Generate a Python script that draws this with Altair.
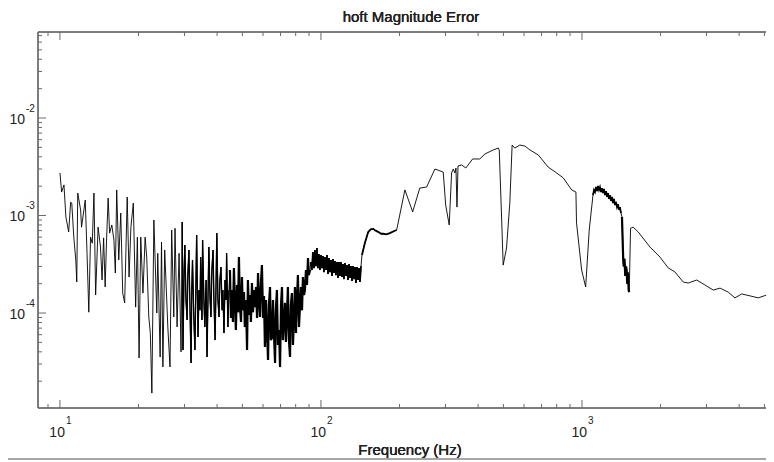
import altair as alt
import pandas as pd

# ---- data (frequency in Hz, magnitude error) ----
# 10 - 29 Hz
FREQ_A = [
    10.0, 10.15, 10.36, 10.54, 10.8, 10.99, 11.1, 11.3, 11.5, 11.6,
    11.7, 12.0, 12.1, 12.5, 12.7, 12.9, 13.1, 13.3, 13.5, 13.7,
    14.0, 14.3, 14.5, 14.7, 14.9, 15.1, 15.3, 15.5, 15.8, 16.1,
    16.3, 16.5, 16.8, 17.1, 17.4, 17.7, 18.1, 18.4, 18.7, 19.1,
    19.5, 19.8, 20.1, 20.4, 20.8, 21.2, 21.5, 21.9, 22.2, 22.5,
    22.9, 23.5, 23.7, 24.2, 24.5, 24.8, 25.2, 25.9, 26.4, 26.8,
    27.3, 27.6, 28.1, 28.6, 29.1,
]
MAG_A = [
    2.73e-3, 1.74e-3, 2.06e-3, 9.66e-4, 6.77e-4, 1.37e-3, 1.34e-3, 6.0e-4, 3.5e-4, 2.08e-4,
    1.70e-3, 1.14e-3, 7.6e-4, 1.44e-3, 4.1e-4, 1.02e-4, 6.0e-4, 5.2e-4, 1.70e-3, 1.53e-4,
    7.6e-4, 4.75e-4, 2.18e-4, 5.9e-4, 1.85e-4, 6.0e-4, 1.51e-3, 6.6e-4, 8.0e-4, 5.6e-4,
    2.57e-4, 1.83e-3, 3.5e-4, 1.06e-3, 1.6e-4, 1.27e-4, 1.55e-3, 2.34e-4, 7.6e-4, 1.34e-3,
    1.15e-4, 6.0e-4, 3.46e-5, 6.0e-4, 1.6e-4, 6.0e-4, 3.75e-4, 9.1e-5, 6.2e-5, 1.51e-5,
    9.0e-4, 1.0e-4, 4.1e-4, 3.54e-5, 5.35e-4, 2.8e-5, 4.43e-4, 7.2e-5, 2.8e-5, 7.1e-4,
    9.1e-5, 7.4e-4, 7.2e-5, 4.1e-4, 4.0e-5,
]
# 29 - 44 Hz
FREQ_B = [
    29.4, 29.6, 29.9, 30.1, 30.4, 30.7, 30.9, 31.2, 31.5, 31.8,
    32.0, 32.2, 32.6, 32.9, 33.2, 33.4, 33.8, 34.1, 34.4, 34.6,
    35.0, 35.2, 35.6, 35.9, 36.3, 36.6, 36.9, 37.2, 37.6, 37.9,
    38.2, 38.6, 38.9, 39.3, 39.6, 39.9, 40.3, 40.7, 41.0, 41.4,
    41.8, 42.1, 42.5, 42.9, 43.3, 43.5, 44.0, 44.4,
]
MAG_B = [
    8.58e-4, 4.17e-5, 2.76e-4, 4.98e-4, 1.36e-4, 8.48e-5, 2.45e-4, 4.43e-4, 1.07e-4, 3.07e-5,
    1.72e-4, 3.50e-4, 8.48e-5, 4.17e-5, 2.18e-4, 6.31e-4, 5.68e-5, 1.72e-4, 1.07e-4, 3.75e-4,
    8.48e-5, 5.61e-4, 1.36e-4, 7.18e-5, 2.18e-4, 3.54e-5, 1.36e-4, 4.75e-4, 1.36e-4, 9.10e-5,
    2.76e-4, 4.43e-4, 1.36e-4, 5.28e-5, 1.72e-4, 6.61e-4, 1.36e-4, 9.10e-5, 2.18e-4, 2.96e-4,
    1.07e-4, 1.72e-4, 6.23e-5, 2.18e-4, 1.36e-4, 4.12e-4, 7.18e-5, 1.72e-4,
]
# 45 - 91 Hz (dense)
FREQ_C = [
    44.8, 45.2, 45.6, 46.0, 46.4, 46.8, 47.2, 47.7, 48.1, 48.5,
    48.9, 49.4, 49.8, 50.2, 50.7, 51.1, 51.6, 52.1, 52.5, 53.0,
    53.5, 53.9, 54.4, 54.9, 55.4, 55.9, 56.4, 56.9, 57.4, 57.9,
    58.4, 58.9, 59.4, 60.0, 60.5, 61.0, 61.6, 62.1, 62.7, 63.2,
    63.8, 64.3, 64.9, 65.5, 66.1, 66.7, 67.2, 67.8, 68.4, 69.1,
    69.7, 70.3, 70.9, 71.5, 72.2, 72.8, 73.4, 74.1, 74.7, 75.4,
    76.1, 76.7, 77.4, 78.1, 78.8, 79.5, 80.2, 80.9, 81.6, 82.4,
    83.1, 83.8, 84.6, 85.3, 86.1, 86.8, 87.6, 88.4, 89.2, 89.9,
    90.8,
]
MAG_C = [
    2.76e-4, 8.89e-5, 1.72e-4, 8.09e-5, 2.89e-4, 1.36e-4, 6.69e-5, 1.94e-4, 1.02e-4, 3.75e-4,
    1.21e-4, 8.09e-5, 2.34e-4, 1.07e-4, 1.64e-4, 7.18e-5, 1.36e-4, 4.17e-5, 2.18e-4, 9.54e-5,
    1.53e-4, 8.09e-5, 2.03e-4, 1.02e-4, 1.72e-4, 1.15e-4, 1.85e-4, 8.89e-5, 2.57e-4, 1.36e-4,
    9.10e-5, 2.03e-4, 3.11e-4, 8.89e-5, 1.49e-4, 4.48e-5, 1.36e-4, 6.69e-5, 3.30e-5, 1.21e-4,
    1.85e-4, 5.28e-5, 5.54e-5, 1.36e-4, 5.95e-5, 3.07e-5, 1.07e-4, 1.72e-4, 4.70e-5, 6.69e-5,
    2.79e-5, 1.21e-4, 1.85e-4, 5.28e-5, 8.48e-5, 1.27e-4, 5.04e-5, 9.54e-5, 1.85e-4, 5.28e-5,
    3.54e-5, 1.21e-4, 1.60e-4, 4.70e-5, 8.48e-5, 1.85e-4, 6.23e-5, 1.36e-4, 2.45e-4, 7.18e-5,
    1.21e-4, 1.85e-4, 1.07e-4, 2.34e-4, 1.53e-4, 1.72e-4, 2.76e-4, 1.94e-4, 3.66e-4, 2.45e-4,
    2.76e-4,
]
# 91 - 143 Hz (thick band)
FREQ_D = [
    91.5, 92.3, 93.1, 94.0, 94.8, 95.6, 96.5, 97.3, 98.2, 99.1,
    100.0, 100.9, 101.8, 102.7, 103.6, 104.5, 105.4, 106.4, 107.3, 108.3,
    109.2, 110.2, 111.2, 112.2, 113.1, 114.1, 115.2, 116.2, 117.2, 118.3,
    119.3, 120.4, 121.4, 122.5, 123.6, 124.7, 125.8, 126.9, 128.1, 129.2,
    130.3, 131.5, 132.7, 133.8, 135.0, 136.2, 137.4, 138.7, 139.9, 141.1,
    142.4,
]
MAG_D = [
    3.34e-4, 2.76e-4, 4.22e-4, 2.89e-4, 4.43e-4, 3.03e-4, 4.64e-4, 2.89e-4, 4.03e-4, 2.76e-4,
    3.94e-4, 2.89e-4, 3.84e-4, 2.63e-4, 3.75e-4, 2.76e-4, 3.94e-4, 2.51e-4, 3.66e-4, 2.63e-4,
    3.50e-4, 2.40e-4, 3.58e-4, 2.57e-4, 3.41e-4, 2.45e-4, 3.34e-4, 2.29e-4, 3.34e-4, 2.40e-4,
    3.34e-4, 2.34e-4, 3.18e-4, 2.23e-4, 3.26e-4, 2.40e-4, 3.11e-4, 2.18e-4, 3.18e-4, 2.29e-4,
    3.03e-4, 2.13e-4, 3.03e-4, 2.23e-4, 2.96e-4, 2.03e-4, 2.96e-4, 2.18e-4, 2.89e-4, 2.08e-4,
    3.03e-4,
]
# 143 - 195 Hz (plateau)
FREQ_E1 = [
    143.6, 147.3, 151.7, 155.0, 158.5, 162.0, 165.6, 170.0, 173.2, 178.0,
    183.7, 190.0, 195.0,
]
MAG_E1 = [
    3.94e-4, 5.22e-4, 6.77e-4, 7.2e-4, 7.3e-4, 7.0e-4, 6.8e-4, 6.5e-4, 6.5e-4, 6.4e-4,
    6.6e-4, 6.9e-4, 7.1e-4,
]
# 210 - 1070 Hz
FREQ_E2 = [
    209.7, 224.6, 239.1, 254.0, 273.3, 294.0, 300.5,
    310.0, 316.6, 321.3, 326.0, 329.0, 332.0, 335.0, 346.0, 359.0, 381.0,
    406.0, 425.0, 457.0, 478.0, 482.0, 492.0, 499.0, 514.0, 529.0, 540.0,
    553.0, 578.0, 604.0, 632.0, 680.0, 742.0, 800.0, 848.0, 913.0, 948.0,
    953.0, 997.0, 1033.0, 1066.0,
]
MAG_E2 = [
    1.83e-3, 1.09e-3, 1.91e-3, 1.96e-3, 3.0e-3, 2.79e-3, 1.28e-3,
    8.0e-4, 2.73e-3, 3.0e-3, 2.73e-3, 3.07e-3, 1.22e-3, 3.22e-3, 3.3e-3, 3.07e-3, 3.8e-3,
    3.8e-3, 4.28e-3, 4.7e-3, 4.92e-3, 4.7e-3, 9.66e-4, 3.1e-4, 4.64e-4, 1.34e-3, 5.28e-3,
    4.92e-3, 5.28e-3, 5.16e-3, 4.7e-3, 4.18e-3, 3.14e-3, 2.73e-3, 2.43e-3, 1.83e-3, 1.74e-3,
    8.4e-4, 2.76e-4, 1.85e-4, 7.1e-4,
]
# 1100 - 1420 Hz (thick band)
FREQ_F = [
    1102, 1112, 1122, 1132, 1142, 1152, 1162, 1172, 1183, 1193,
    1204, 1214, 1225, 1236, 1247, 1258, 1269, 1280, 1292, 1303,
    1315, 1326, 1338, 1350, 1362, 1374, 1386, 1398, 1411,
]
MAG_F = [
    1.62e-3, 1.83e-3, 1.74e-3, 1.96e-3, 1.78e-3, 2.01e-3, 1.83e-3, 1.96e-3, 1.74e-3, 1.91e-3,
    1.70e-3, 1.87e-3, 1.62e-3, 1.78e-3, 1.55e-3, 1.70e-3, 1.48e-3, 1.62e-3, 1.41e-3, 1.55e-3,
    1.34e-3, 1.48e-3, 1.28e-3, 1.38e-3, 1.22e-3, 1.31e-3, 1.14e-3, 1.22e-3, 1.06e-3,
]
# 1420 - 1520 Hz (dip)
FREQ_G1 = [1423, 1439, 1445, 1455, 1465, 1475, 1483, 1490, 1500, 1510, 1517]
MAG_G1 = [9.66e-4, 3.5e-4, 3.0e-4, 3.6e-4, 2.4e-4, 3.0e-4, 2.76e-4, 2.0e-4, 2.6e-4, 1.7e-4, 1.64e-4]
# 1530 - 5400 Hz
FREQ_G2 = [
    1535, 1571, 1643, 1822, 1990, 2140, 2270, 2443, 2553,
    2750, 2958, 3184, 3380, 3631, 3855, 4091, 4403, 4733, 5094, 5405,
]
MAG_G2 = [
    7.4e-4, 7.6e-4, 6.77e-4, 4.75e-4, 3.75e-4, 2.9e-4, 2.64e-4, 2.08e-4, 2.03e-4,
    2.18e-4, 1.94e-4, 1.72e-4, 1.8e-4, 1.64e-4, 1.43e-4, 1.57e-4, 1.5e-4, 1.43e-4, 1.53e-4, 1.6e-4,
]

X_MAJOR = [10, 100, 1000]
X_EXP = ["1", "2", "3"]
X_MINOR = [9, 20, 30, 40, 50, 60, 70, 80, 90, 200, 300, 400, 500, 600, 700, 800, 900,
           2000, 3000, 4000, 5000]
Y_MAJOR = [1e-2, 1e-3, 1e-4]
Y_EXP = ["-2", "-3", "-4"]
Y_MINOR = [2e-5, 3e-5, 4e-5, 5e-5, 6e-5, 7e-5, 8e-5, 9e-5,
           2e-4, 3e-4, 4e-4, 5e-4, 6e-4, 7e-4, 8e-4, 9e-4,
           2e-3, 3e-3, 4e-3, 5e-3, 6e-3, 7e-3, 8e-3, 9e-3,
           2e-2, 3e-2, 4e-2, 5e-2, 6e-2, 7e-2]

TITLE = "hoft Magnitude Error"
XTITLE = "Frequency (Hz)"

W, H = 728, 376
XDOM = [8.24, 5070]
YDOM = [1.062e-5, 0.0762]
AX = "#6a6a6a"
TXT = "#222222"
FONT = "Liberation Sans"

xs = alt.Scale(type="log", domain=XDOM, nice=False)
ys = alt.Scale(type="log", domain=YDOM, nice=False)

# (freqs, mags, extra stroke width for the densely sampled stretches; 0 = none)
segs = [(FREQ_A, MAG_A, 0), (FREQ_B, MAG_B, 1.3), (FREQ_C, MAG_C, 2.2),
        (FREQ_D, MAG_D, 1.7), (FREQ_E1, MAG_E1, 1.8), (FREQ_E2, MAG_E2, 0),
        (FREQ_F, MAG_F, 1.7), (FREQ_G1, MAG_G1, 2.2), (FREQ_G2, MAG_G2, 0)]
rows = []
for g, (fs, ms, w) in enumerate(segs):
    for f, m in zip(fs, ms):
        rows.append({"f": f, "m": m, "g": g, "w": w})
df = pd.DataFrame(rows)
df["i"] = range(len(df))
df_dense = df[df["w"] > 0]

xmaj = pd.DataFrame({"f": X_MAJOR, "e": X_EXP})
xmin = pd.DataFrame({"f": X_MINOR})
ymaj = pd.DataFrame({"v": Y_MAJOR, "e": Y_EXP})
ymin = pd.DataFrame({"v": Y_MINOR})

line = alt.Chart(df).mark_line(color="black", strokeWidth=0.9, clip=True).encode(
    x=alt.X("f:Q", scale=xs, axis=None),
    y=alt.Y("m:Q", scale=ys, axis=None),
    order="i:Q",
)
# the densely sampled stretches render as a solid band in the reference
dense = alt.Chart(df_dense).mark_line(color="black", clip=True).encode(
    x=alt.X("f:Q", scale=xs, axis=None),
    y=alt.Y("m:Q", scale=ys, axis=None),
    detail="g:N",
    strokeWidth=alt.StrokeWidth("w:Q", scale=None),
    order="i:Q",
)

frame_left = alt.Chart(xmaj).mark_rule(color=AX, strokeWidth=1).encode(
    x=alt.value(0), y=alt.value(0), y2=alt.value(H))
frame_bottom = alt.Chart(xmaj).mark_rule(color=AX, strokeWidth=1).encode(
    x=alt.value(0), x2=alt.value(W), y=alt.value(H))
frame_top = alt.Chart(xmaj).mark_rule(color=AX, strokeWidth=1).encode(
    x=alt.value(0), x2=alt.value(W), y=alt.value(0))
bottom_line = alt.Chart(xmaj).mark_rule(color="#9a9a9a", strokeWidth=1).encode(
    x=alt.value(-30), x2=alt.value(W), y=alt.value(H + 51))

def xticks(data, length):
    b = alt.Chart(data).mark_rule(color=AX, strokeWidth=1).encode(
        x=alt.X("f:Q", scale=xs, axis=None), y=alt.value(H), y2=alt.value(H - length))
    t = alt.Chart(data).mark_rule(color=AX, strokeWidth=1).encode(
        x=alt.X("f:Q", scale=xs, axis=None), y=alt.value(0), y2=alt.value(length))
    return b + t

def yticks(data, length):
    return alt.Chart(data).mark_rule(color=AX, strokeWidth=1).encode(
        y=alt.Y("v:Q", scale=ys, axis=None), x=alt.value(0), x2=alt.value(length))

xlab_base = alt.Chart(xmaj).mark_text(align="right", baseline="middle", dx=5,
                                      fontSize=14, font=FONT, color=TXT).encode(
    x=alt.X("f:Q", scale=xs, axis=None), y=alt.value(H + 25), text=alt.value("10"))
xlab_exp = alt.Chart(xmaj).mark_text(align="left", baseline="middle", dx=6,
                                     fontSize=10, font=FONT, color=TXT).encode(
    x=alt.X("f:Q", scale=xs, axis=None), y=alt.value(H + 13), text="e:N")
ylab_base = alt.Chart(ymaj).mark_text(align="right", baseline="middle", dy=1.5,
                                      fontSize=14, font=FONT, color=TXT).encode(
    y=alt.Y("v:Q", scale=ys, axis=None), x=alt.value(-13), text=alt.value("10"))
ylab_exp = alt.Chart(ymaj).mark_text(align="left", baseline="middle", dy=-9.5,
                                     fontSize=10, font=FONT, color=TXT).encode(
    y=alt.Y("v:Q", scale=ys, axis=None), x=alt.value(-12), text="e:N")

title = alt.Chart(xmaj).mark_text(align="center", baseline="alphabetic", fontSize=15,
                                  font=FONT, color=TXT).encode(
    x=alt.value(373), y=alt.value(-10), text=alt.value(TITLE))
xtitle = alt.Chart(xmaj).mark_text(align="center", baseline="alphabetic", fontSize=15,
                                   font=FONT, color=TXT).encode(
    x=alt.value(372), y=alt.value(H + 47), text=alt.value(XTITLE))

chart = alt.layer(
    frame_left, frame_bottom, frame_top, bottom_line,
    xticks(xmin, 4), xticks(xmaj, 8), yticks(ymin, 4), yticks(ymaj, 8),
    line, dense, xlab_base, xlab_exp, ylab_base, ylab_exp, title, xtitle,
).properties(
    width=W, height=H,
    padding={"left": 30, "top": 24, "right": 0, "bottom": 54},
    autosize=alt.AutoSizeParams(type="none"),
).configure_view(stroke=None)

chart.save("out.html", embed_options={"renderer": "svg", "actions": False})
